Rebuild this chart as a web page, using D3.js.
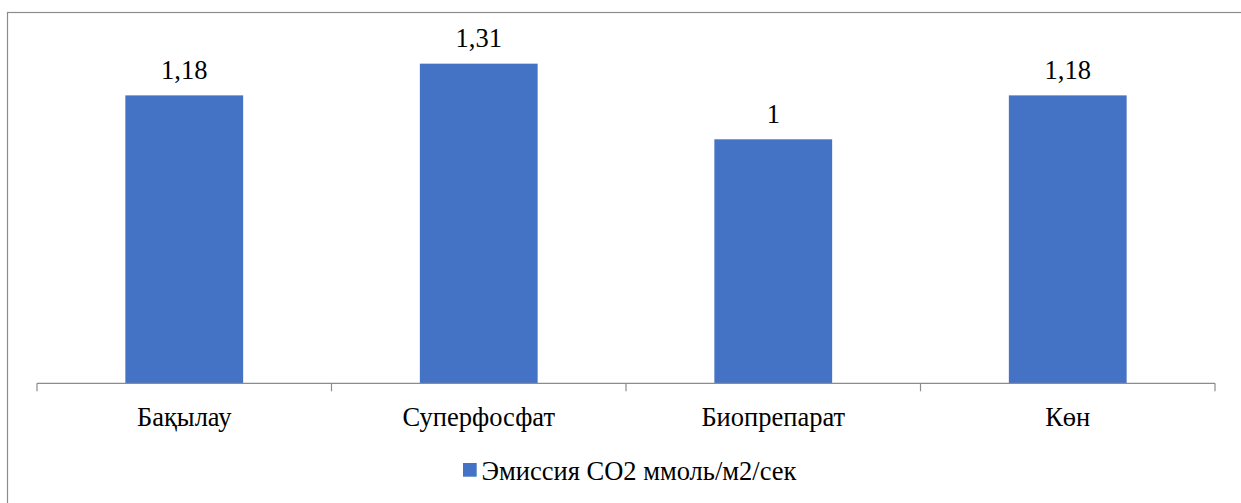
<!DOCTYPE html>
<html><head><meta charset="utf-8">
<script src="https://cdn.jsdelivr.net/npm/d3@7"></script>
</head><body style="margin:0">
<svg id="c" width="1241" height="503" font-family="Liberation Serif"></svg>
<script>
const categories = ["Бақылау","Суперфосфат","Биопрепарат","Көн"];
const values = [1.18, 1.31, 1, 1.18];
const valueLabels = ["1,18","1,31","1","1,18"];
const seriesName = "Эмиссия CO2 ммоль/м2/сек";

const FONT = "Liberation Serif";
const FS = 26.5;
const svg = d3.select("#c");
svg.append("rect").attr("x",7.5).attr("y",12.5).attr("width",1300).attr("height",600)
  .attr("fill","none").attr("stroke","#8c8c8c").attr("stroke-width",1.2);

const x = d3.scaleBand().domain(categories).range([37,1215]).paddingInner(0.6).paddingOuter(0.3);
const y = d3.scaleLinear().domain([0,1.4]).range([383.3,41.7]);

svg.selectAll(".bar").data(values).enter().append("rect")
  .attr("x",(d,i)=>x(categories[i])).attr("width",x.bandwidth())
  .attr("y",d=>y(d)).attr("height",d=>y(0)-y(d)).attr("fill","#4472C4");

svg.selectAll(".lbl").data(values).enter().append("text")
  .attr("x",(d,i)=>x(categories[i])+x.bandwidth()/2).attr("y",d=>y(d)-16.7)
  .attr("text-anchor","middle").attr("font-family",FONT).attr("font-size",FS)
  .text((d,i)=>valueLabels[i]);

// axis
const ax = svg.append("g");
ax.append("line").attr("x1",37).attr("x2",1215).attr("y1",y(0)).attr("y2",y(0)).attr("stroke","#8c8c8c").attr("stroke-width",1.2);
const step = (1215-37)/categories.length;
d3.range(categories.length+1).forEach(i=>{
  ax.append("line").attr("x1",37+i*step).attr("x2",37+i*step).attr("y1",y(0)).attr("y2",y(0)+8).attr("stroke","#8c8c8c").attr("stroke-width",1.2);
});
svg.selectAll(".cat").data(categories).enter().append("text")
  .attr("x",d=>x(d)+x.bandwidth()/2).attr("y",425.7).attr("text-anchor","middle")
  .attr("font-family",FONT).attr("font-size",FS).text(d=>d);

// legend
const lg = svg.append("g");
lg.append("rect").attr("x",463).attr("y",463).attr("width",13.7).attr("height",13.7).attr("fill","#4472C4");
lg.append("text").attr("x",481.5).attr("y",480).attr("font-family",FONT).attr("font-size",FS).text(seriesName);
</script>
</body></html>
